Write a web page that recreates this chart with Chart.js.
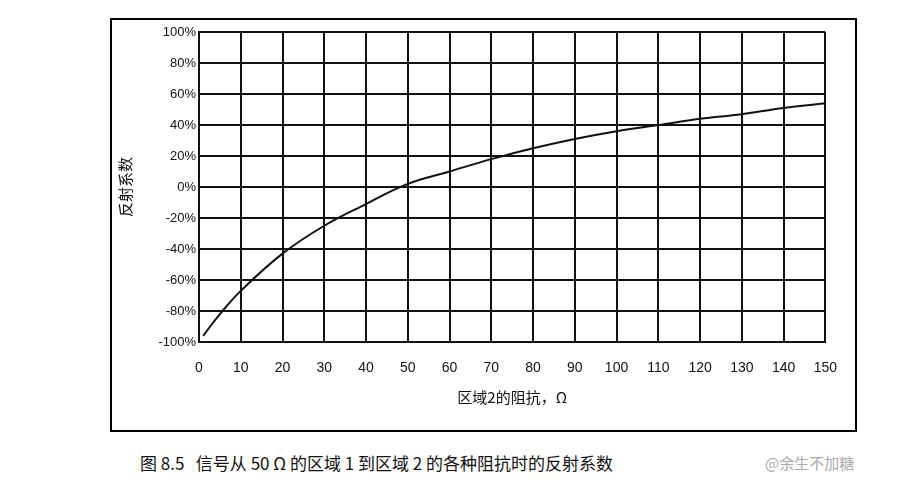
<!DOCTYPE html>
<html><head><meta charset="utf-8">
<script src="https://cdn.jsdelivr.net/npm/chart.js@4"></script>
<style>
body{margin:0;background:#fff;width:920px;height:481px;position:relative;font-family:"Liberation Serif","Noto Sans CJK SC",serif}
#box{position:absolute;left:110px;top:18px;width:743px;height:410px;border:2px solid #000}
#cap{position:absolute;left:140px;top:450px;font-size:17px;color:#111;font-family:"Noto Sans CJK SC",serif}
#wm{position:absolute;left:765px;top:452px;font-size:15px;color:#aaa;font-family:"Noto Sans CJK SC",sans-serif}
</style></head><body>
<div id="box"><canvas id="c" width="743" height="410"></canvas></div>
<div id="cap">图 8.5&nbsp;&nbsp;&nbsp;信号从 50 Ω 的区域 1 到区域 2 的各种阻抗时的反射系数</div>
<div id="wm">@余生不加糖</div>
<script>
var impedance = [1, 5, 10, 20, 30, 40, 50, 60, 70, 80, 90, 100, 110, 120, 130, 140, 150];
var reflection = [-96, -82, -67, -43, -25, -11, 2, 10, 18, 25, 31, 36, 40, 44, 47, 51, 54];
var points = impedance.map(function(x, i){ return {x: x, y: reflection[i]}; });

new Chart(document.getElementById("c"), {
  type: "scatter",
  data: {datasets: [{data: points, showLine: true, borderColor: "#111", borderWidth: 2, pointRadius: 0, tension: 0.4, fill: false}]},
  options: {
    responsive: false, animation: false,
    layout: {padding: {top: 12, right: 15, left: 0, bottom: 20}},
    plugins: {legend: {display: false}, tooltip: {enabled: false}},
    scales: {
      x: {type: "linear", min: 0, max: 150,
        ticks: {stepSize: 10, padding: 18, color: "#111", font: {size: 14, family: "Liberation Sans"}, maxRotation: 0},
        grid: {color: "#111", lineWidth: 2, drawTicks: false},
        border: {color: "#111", width: 2},
        title: {display: true, text: "区域2的阻抗，Ω", color: "#111", font: {size: 15, family: "Noto Sans CJK SC"}},
        afterFit: function(a){ a.height = 68; }
      },
      y: {min: -100, max: 100,
        ticks: {stepSize: 20, color: "#111", font: {size: 13, family: "Liberation Sans"}, callback: function(v){ return v + "%"; }},
        grid: {color: "#111", lineWidth: 2, drawTicks: false},
        border: {color: "#111", width: 2},
        title: {display: true, text: "反射系数", color: "#111", font: {size: 15, family: "Noto Sans CJK SC"}},
        afterFit: function(a){ a.width = 87; }
      }
    }
  }
});
</script>
</body></html>
